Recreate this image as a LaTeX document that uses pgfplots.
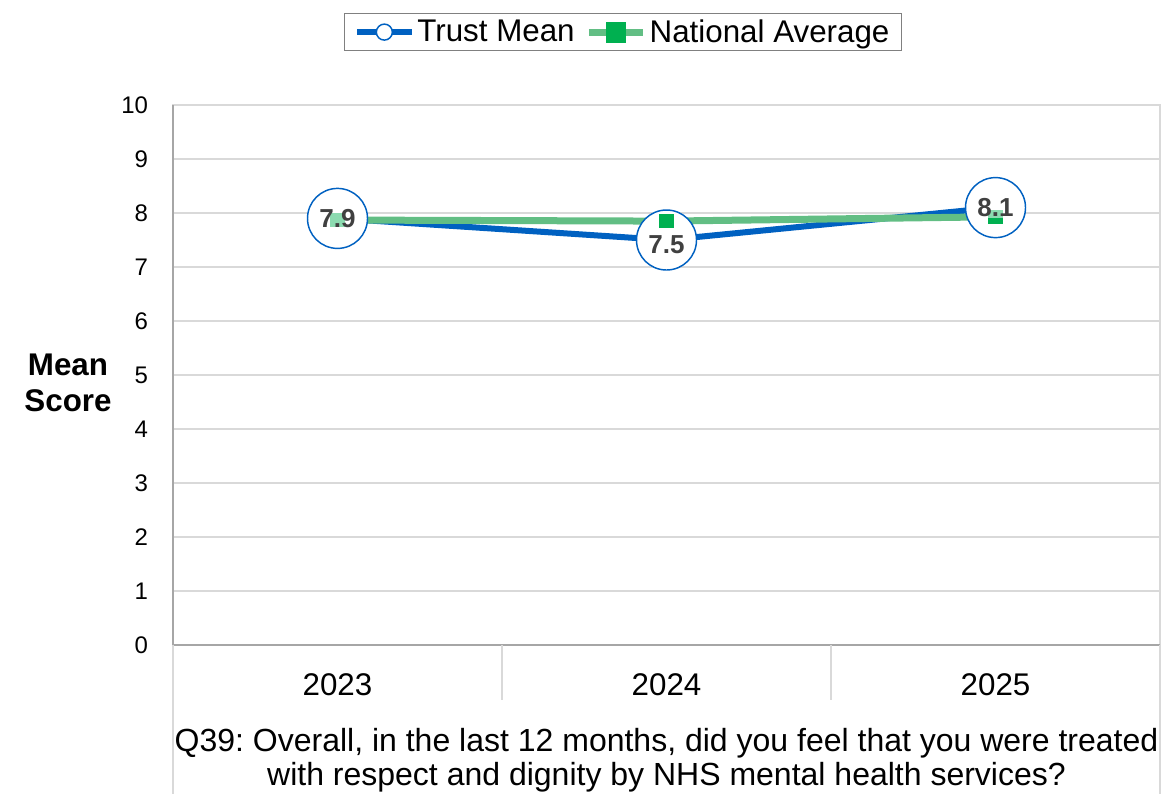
\documentclass[border=0pt]{standalone}
\usepackage{pgfplots}
\pgfplotsset{compat=1.18}
\usepackage{fontspec}
\setmainfont{Liberation Sans}
\frenchspacing
\definecolor{trustblue}{HTML}{0061C1}
\definecolor{natline}{HTML}{62BE84}
\definecolor{natmark}{HTML}{00B050}
\definecolor{lbl}{HTML}{404040}
\definecolor{gridc}{HTML}{D9D9D9}
\definecolor{axc}{HTML}{A6A6A6}
\begin{document}
\begin{tikzpicture}
\useasboundingbox (0,0) rectangle (882pt,-594.75pt);
\begin{axis}[
  at={(129.75pt,-483.75pt)}, anchor=south west,
  scale only axis, width=740.25pt, height=405pt,
  xmin=-0.5, xmax=2.5, ymin=0, ymax=10,
  xtick={0,1,2}, xticklabels={2023,2024,2025},
  ytick={0,1,...,10},
  major tick length=0pt,
  ymajorgrids, grid style={gridc, line width=0.8pt},
  axis line style={draw=gridc, line width=1pt},
  /pgf/number format/assume math mode=true,
  yticklabel style={font=\fontsize{18}{20}\selectfont, anchor=east, inner sep=0pt, xshift=-18.5pt},
  xticklabel style={font=\fontsize{23.5}{26}\selectfont, anchor=center, yshift=-30pt},
  clip=false,
  legend style={at={(rel axis cs:0.456,1.135)}, anchor=center, legend columns=2,
    draw=gray, line width=1pt, font=\fontsize{23.5}{26}\selectfont, inner xsep=7pt, inner ysep=2.5pt,
    /tikz/every even column/.append style={column sep=6pt}},
  legend cell align=left,
]
\addplot[trustblue, line width=4.5pt, mark=*, mark size=22.5pt,
  mark options={draw=trustblue, fill=white, line width=1.1pt},
  legend image code/.code={
    \draw[trustblue, line width=4.5pt] (0pt,0pt) -- (41pt,0pt);
    \draw[trustblue, fill=white, line width=1.1pt] (20.5pt,0pt) circle (6pt);
  }]
  coordinates {(0,7.9) (1,7.5) (2,8.1)};
\addlegendentry{Trust Mean}
\addplot[natline, line width=5.25pt, mark=square*, mark size=5pt,
  mark options={draw=natmark, fill=natmark, line width=0pt},
  legend image code/.code={
    \draw[natline, line width=5.25pt] (0pt,0pt) -- (41pt,0pt);
    \fill[natmark] (15.75pt,-5.25pt) rectangle (25.25pt,5.25pt);
  }]
  coordinates {(0,7.87) (1,7.85) (2,7.93)};
\addlegendentry{National Average}
\addplot[draw=none, mark=none, forget plot, nodes near coords, nodes near coords align=center,
  point meta=explicit symbolic,
  every node near coord/.style={font=\bfseries\fontsize{19.5}{22}\selectfont, text=lbl, anchor=center,
    inner sep=1pt, fill=white, fill opacity=0.55, text opacity=1}]
  coordinates {(0,7.9)[7.9] (1,7.42)[7.5] (2,8.1)[8.1]};
\draw[axc, line width=1pt] (axis cs:-0.5,10) -- (axis cs:-0.5,0);
\draw[axc, line width=1pt] (axis cs:-0.5,0) -- (axis cs:2.5,0);
\draw[gridc, line width=1pt] (axis cs:0.5,0) -- ([yshift=-41.25pt]axis cs:0.5,0);
\draw[gridc, line width=1pt] (axis cs:1.5,0) -- ([yshift=-41.25pt]axis cs:1.5,0);
\draw[gridc, line width=1pt] (axis cs:-0.5,0) -- ([yshift=-112pt]axis cs:-0.5,0);
\draw[gridc, line width=1pt] (axis cs:2.5,0) -- ([yshift=-112pt]axis cs:2.5,0);
\node[align=center, font=\fontsize{24}{25.5}\selectfont, anchor=center, inner sep=0pt]
  at ([yshift=-86.5pt]axis cs:1,0)
  {Q39: Overall, in the last 12 months, did you feel that you were treated\\with respect and dignity by NHS mental health services?};
\end{axis}
\node[align=center, font=\bfseries\fontsize{23.5}{27}\selectfont, anchor=center] at (51pt,-287.25pt) {Mean\\Score};
\end{tikzpicture}
\end{document}
